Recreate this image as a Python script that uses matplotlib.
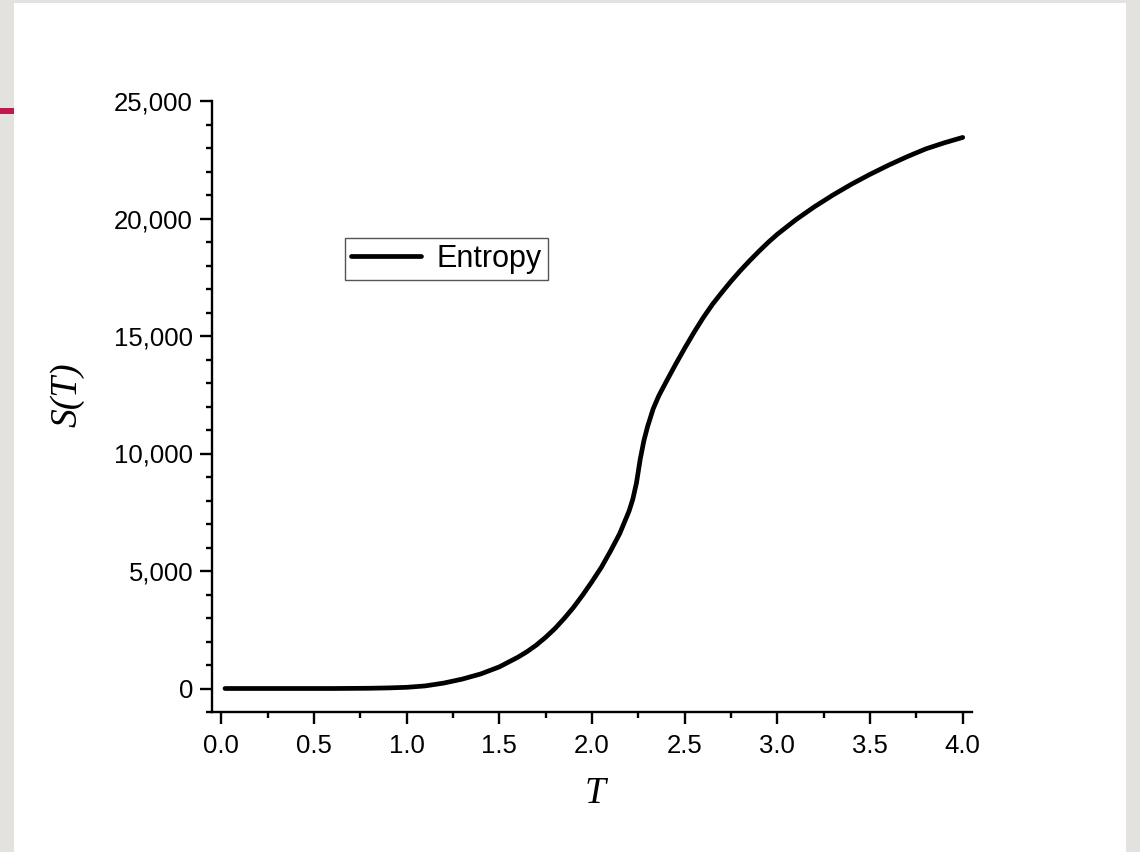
"""Entropy S(T) curve, drawn on a slide-style background."""

import matplotlib

matplotlib.use("Agg")
import matplotlib.pyplot as plt  # noqa: E402
from matplotlib.patches import Rectangle  # noqa: E402
from matplotlib.ticker import FuncFormatter, MultipleLocator  # noqa: E402

# values
temperature = [0.02, 0.3, 0.6, 0.8, 0.9, 1.0, 1.1, 1.2, 1.3, 1.4, 1.5, 1.6,
               1.65, 1.7, 1.75, 1.8, 1.85, 1.9, 1.95, 2.0, 2.05, 2.1, 2.15,
               2.2, 2.22, 2.24, 2.26, 2.28, 2.3, 2.33, 2.36, 2.4, 2.45, 2.5,
               2.55, 2.6, 2.65, 2.7, 2.75, 2.8, 2.85, 2.9, 2.95, 3.0, 3.1,
               3.2, 3.3, 3.4, 3.5, 3.6, 3.7, 3.8, 3.9, 4.0]
entropy = [0, 0, 0, 10, 25, 50, 110, 230, 400, 620, 920, 1330,
           1570, 1850, 2180, 2550, 2980, 3450, 3980, 4550, 5150, 5850, 6600,
           7550, 8050, 8750, 9750, 10550, 11150, 11900, 12450, 13050, 13780, 14480,
           15150, 15780, 16350, 16850, 17330, 17780, 18200, 18600, 18980, 19330, 19950,
           20500, 21000, 21460, 21880, 22270, 22630, 22960, 23220, 23450]

x_ticks_major = 0.5
y_ticks_major = 5000

fig = plt.figure(figsize=(11.4, 8.52), dpi=100, facecolor="#e4e2df")
# white slide area and the little red accent on the left edge
fig.patches.append(Rectangle((14 / 1140, 0), 1112 / 1140, 849 / 852,
                             transform=fig.transFigure, facecolor="white",
                             edgecolor="none", zorder=-10))
fig.patches.append(Rectangle((0, 1 - 114 / 852), 14 / 1140, 6 / 852,
                             transform=fig.transFigure, facecolor="#c0184a",
                             edgecolor="none", zorder=-9))

ax = fig.add_axes([212 / 1140, 1 - 712 / 852, 760 / 1140, 611 / 852])
ax.set_zorder(1)
ax.set_facecolor("none")
ax.plot(temperature, entropy, color="black", lw=3.4, solid_capstyle="round",
        solid_joinstyle="round", label="Entropy")

ax.set_xlim(-0.05, 4.05)
ax.set_ylim(-1000, 25000)
ax.xaxis.set_major_locator(MultipleLocator(x_ticks_major))
ax.xaxis.set_minor_locator(MultipleLocator(0.25))
ax.yaxis.set_major_locator(MultipleLocator(y_ticks_major))
ax.yaxis.set_minor_locator(MultipleLocator(1000))
ax.yaxis.set_major_formatter(FuncFormatter(lambda v, _: f"{v:,.0f}"))
ax.xaxis.set_major_formatter(FuncFormatter(lambda v, _: f"{v:.1f}"))

for side in ("top", "right"):
    ax.spines[side].set_visible(False)
for side in ("left", "bottom"):
    ax.spines[side].set_linewidth(1.7)

ax.tick_params(which="major", direction="out", length=8.6, width=1.7,
               labelsize=18.5, colors="black")
ax.tick_params(which="minor", direction="out", length=4.3, width=1.7)
ax.tick_params(axis="y", which="major", pad=5)
ax.tick_params(axis="x", which="major", pad=7)
for lab in ax.get_xticklabels() + ax.get_yticklabels():
    lab.set_fontfamily("Liberation Sans")

ax.set_xlabel("T", fontfamily="Liberation Serif", fontstyle="italic",
              fontsize=27, va="center")
ax.set_ylabel("S(T)", fontfamily="Liberation Serif", fontstyle="italic",
              fontsize=27, va="center")
ax.xaxis.set_label_coords(0.504, -0.134)
ax.yaxis.set_label_coords(-0.19, 0.52)

leg = ax.legend(loc="upper left", bbox_to_anchor=(0.175, 0.776),
                borderaxespad=0, fancybox=False, framealpha=1,
                edgecolor="#555555", prop={"family": "Liberation Sans",
                                           "size": 22},
                handlelength=2.3, handletextpad=0.5, borderpad=0.2)
leg.get_frame().set_linewidth(1.0)

fig.savefig("out.png", dpi=100, facecolor=fig.get_facecolor())
